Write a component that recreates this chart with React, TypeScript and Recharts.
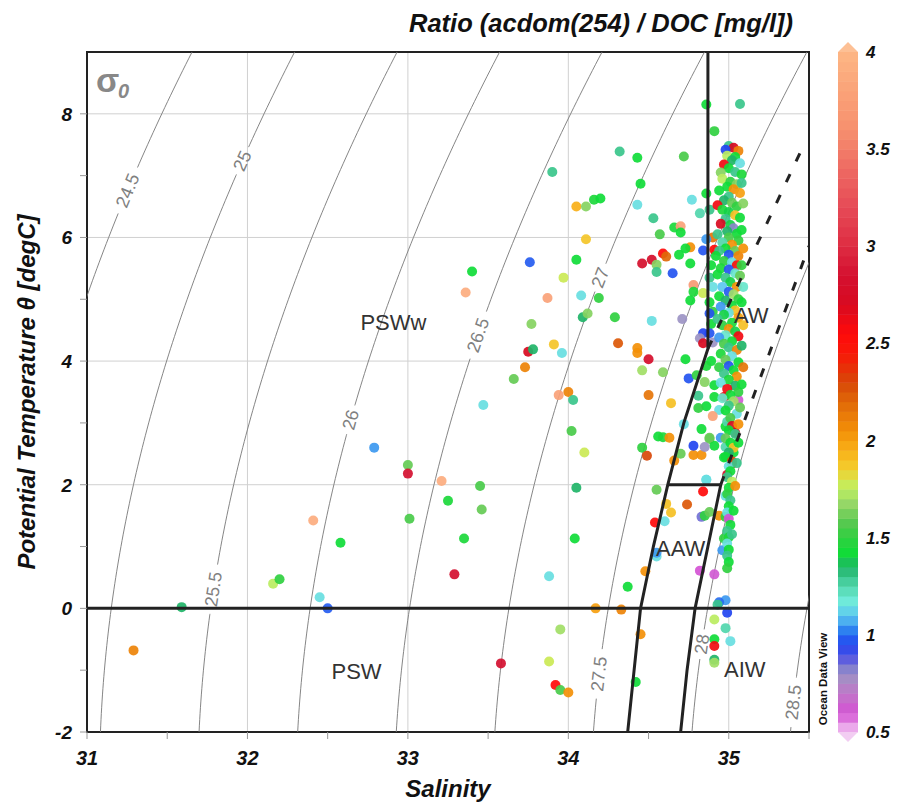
import React from 'react';
import { ComposedChart, Scatter, XAxis, YAxis, CartesianGrid, ReferenceArea, ReferenceDot } from 'recharts';

const W = 897;
const H = 808;
const FONT = "'Liberation Sans', Arial, sans-serif";

// [salinity, potential temperature, ratio]
const pswPoints = [
  [31.29, -0.68, 2.1], [31.59, 0.02, 1.35], [32.16, 0.4, 1.75], [32.2, 0.47, 1.5], [32.41, 1.42, 3.9],
  [32.45, 0.18, 1.15], [32.5, 0.0, 0.98], [32.58, 1.06, 1.42], [32.79, 2.6, 1.05], [33.0, 2.32, 1.6],
  [33.0, 2.18, 2.85], [33.21, 2.06, 3.9], [33.45, 1.98, 1.55], [33.25, 1.74, 1.45], [33.46, 1.6, 1.6],
  [33.01, 1.45, 1.55], [33.35, 1.13, 1.45], [33.29, 0.55, 2.85], [33.88, 0.52, 1.15], [33.95, -0.34, 1.7],
  [33.58, -0.89, 2.85], [33.88, -0.86, 1.78], [33.92, -1.24, 2.55], [33.95, -1.32, 1.55], [34.0, -1.36, 2.05],
  [34.17, 0.0, 2.0], [34.33, -0.02, 2.1], [34.45, -0.42, 2.05], [34.42, -1.19, 1.42], [34.37, 0.35, 1.42],
  [34.48, 0.6, 2.05], [34.05, 1.95, 1.35], [34.04, 1.13, 1.42],
];

const pswwPoints = [
  [34.0, 3.5, 2.1], [33.94, 3.45, 3.8], [34.03, 3.37, 1.3], [34.02, 2.87, 1.55], [34.1, 2.52, 1.78],
  [33.47, 3.29, 1.15], [33.66, 3.71, 1.6], [33.73, 3.9, 2.1], [33.75, 4.15, 2.7], [33.78, 4.19, 1.35],
  [33.77, 4.6, 1.65], [33.91, 4.27, 1.88], [33.96, 4.13, 1.15], [33.87, 5.02, 3.8], [33.76, 5.6, 0.98],
  [33.4, 5.45, 1.42], [33.36, 5.11, 3.9], [33.97, 5.35, 1.78], [33.9, 7.06, 1.3], [34.05, 6.5, 1.95],
  [34.11, 6.5, 1.65], [34.11, 5.97, 1.88], [34.05, 5.64, 1.42], [34.08, 5.06, 1.15], [34.09, 4.71, 1.35],
  [34.32, 7.39, 1.3], [34.43, 7.29, 1.42], [34.72, 7.31, 1.55], [34.45, 6.87, 1.42], [34.16, 6.61, 1.45],
  [34.2, 6.63, 1.42], [34.43, 6.53, 1.15], [34.77, 6.61, 1.15], [34.53, 6.31, 1.3], [34.82, 6.39, 1.25],
  [34.86, 6.71, 1.42], [34.66, 6.16, 1.45], [34.7, 6.18, 3.8], [34.7, 6.08, 1.42], [34.57, 6.05, 1.55],
  [34.76, 5.84, 2.05], [34.84, 5.79, 0.97], [34.46, 5.58, 2.8], [34.52, 5.64, 2.8], [34.55, 5.56, 1.65],
  [34.55, 5.44, 1.3], [34.59, 5.74, 2.55], [34.61, 5.69, 2.2], [34.65, 5.42, 0.97], [34.69, 5.72, 1.42],
  [34.73, 5.82, 1.42], [34.76, 5.58, 1.42], [34.19, 5.02, 1.5], [34.12, 4.77, 1.65], [34.29, 4.71, 1.5],
  [34.52, 4.65, 1.15], [34.71, 4.68, 0.8], [34.78, 5.23, 3.7], [34.78, 5.12, 1.45], [34.76, 4.98, 1.42],
  [34.84, 5.1, 1.78], [34.31, 4.29, 2.25], [34.43, 4.21, 2.05], [34.43, 4.13, 2.05], [34.5, 4.03, 2.8],
  [34.46, 3.85, 1.7], [34.59, 3.82, 1.65], [34.5, 3.45, 2.15], [34.64, 3.32, 1.9], [34.56, 2.78, 1.42],
  [34.59, 2.77, 1.45], [34.63, 2.76, 2.05], [34.46, 2.6, 1.5], [34.49, 2.47, 2.3],
];

const awEdgePoints = [
  [34.86, 8.15, 1.42], [35.07, 8.16, 1.3], [34.91, 7.72, 1.5], [34.88, 6.45, 1.3], [34.9, 6.0, 2.15],
  [34.91, 5.8, 2.55], [34.89, 5.55, 1.42], [34.88, 5.35, 1.3], [34.9, 5.2, 1.15], [34.88, 4.95, 1.42],
  [34.9, 4.8, 1.5], [34.89, 4.6, 1.42], [34.88, 4.45, 0.97], [34.9, 4.3, 0.8], [34.89, 4.0, 1.42],
  [34.86, 5.97, 1.05], [34.88, 4.77, 0.97], [34.84, 4.45, 0.95], [34.82, 4.37, 0.8], [34.84, 4.29, 2.7],
  [34.86, 3.92, 1.45], [34.75, 3.72, 0.97], [34.73, 4.03, 1.42], [34.8, 3.77, 1.5], [34.85, 3.66, 1.65],
  [34.91, 3.61, 1.42], [34.81, 3.44, 1.3], [34.86, 3.27, 1.42], [34.81, 3.24, 1.5], [34.91, 3.42, 1.42],
  [34.94, 3.21, 1.15], [34.9, 3.11, 3.8], [34.97, 3.42, 2.6], [34.83, 2.9, 1.42], [34.88, 2.74, 1.6],
  [34.95, 2.76, 1.05], [34.98, 2.94, 1.42], [34.99, 3.02, 1.25], [34.91, 2.63, 1.42], [34.98, 2.61, 1.25],
  [34.97, 2.44, 1.42], [35.02, 2.34, 2.3], [35.04, 2.84, 2.75], [35.03, 2.52, 1.42], [34.99, 2.16, 2.8],
  [35.06, 3.37, 0.62], [34.72, 2.98, 1.15], [34.66, 2.39, 2.05], [34.7, 2.5, 1.6], [34.78, 2.48, 2.05],
  [34.83, 2.48, 2.05], [34.78, 2.63, 0.95], [34.85, 2.61, 0.8], [34.88, 2.76, 1.6], [34.86, 2.08, 1.15],
];

const awCorePoints = [
  [35.0, 7.48, 1.3], [35.03, 7.45, 2.7], [35.06, 7.4, 2.1], [34.98, 7.42, 0.95], [34.99, 7.32, 1.75], [35.04, 7.3, 1.42],
  [35.02, 7.25, 1.35], [35.07, 7.2, 1.15], [34.97, 7.18, 2.6], [35.0, 7.12, 1.42], [35.04, 7.06, 1.3], [35.08, 7.02, 1.45],
  [34.95, 7.05, 1.65], [34.96, 6.95, 1.75], [35.01, 6.9, 1.5], [35.05, 6.86, 1.65], [34.99, 6.82, 1.42], [35.03, 6.78, 2.05],
  [34.94, 6.76, 1.42], [35.07, 6.72, 2.0], [35.0, 6.66, 1.3], [34.97, 6.6, 1.35], [35.02, 6.56, 1.6], [35.05, 6.5, 1.5],
  [34.93, 6.52, 2.6], [34.96, 6.45, 1.45], [35.0, 6.41, 1.4], [35.04, 6.36, 1.9], [34.98, 6.3, 1.3], [35.07, 6.32, 1.42],
  [34.95, 6.22, 2.7], [35.01, 6.2, 1.4], [35.03, 6.15, 0.82], [34.99, 6.1, 1.35], [35.05, 6.06, 1.42], [34.93, 6.05, 1.3],
  [35.0, 6.0, 1.55], [35.06, 5.95, 1.5], [34.96, 5.92, 1.25], [35.02, 5.88, 2.05], [34.98, 5.82, 1.42], [35.04, 5.78, 1.6],
  [34.94, 5.78, 1.3], [35.0, 5.72, 0.97], [35.06, 5.7, 2.1], [34.92, 5.7, 1.42], [34.97, 5.62, 1.5], [35.02, 5.6, 1.15],
  [35.05, 5.55, 2.5], [34.95, 5.5, 1.45], [35.0, 5.48, 0.97], [35.04, 5.42, 1.2], [34.93, 5.4, 1.42], [35.07, 5.38, 1.6],
  [34.98, 5.35, 1.3], [35.01, 5.28, 1.4], [35.05, 5.2, 2.05], [34.96, 5.2, 1.1], [35.0, 5.12, 0.98], [35.03, 5.08, 1.7],
  [34.94, 5.05, 1.42], [35.06, 5.0, 1.5], [34.98, 4.98, 1.35], [35.02, 4.9, 1.42], [34.95, 4.88, 1.05], [35.04, 4.82, 1.9],
  [35.0, 4.78, 1.15], [34.97, 4.75, 1.4], [35.06, 4.7, 2.0], [34.93, 4.68, 1.3], [35.02, 4.62, 1.45], [34.96, 4.58, 1.5],
  [35.0, 4.52, 2.05], [35.04, 4.48, 1.4], [34.98, 4.42, 1.2], [35.06, 4.4, 2.6], [34.94, 4.38, 1.05], [35.02, 4.32, 1.42],
  [34.97, 4.28, 1.55], [35.0, 4.22, 1.3], [35.05, 4.18, 2.1], [34.95, 4.12, 1.45], [35.02, 4.08, 1.15], [34.98, 4.02, 1.6],
  [35.06, 3.98, 1.42], [35.0, 3.92, 0.97], [34.94, 3.9, 1.5], [35.03, 3.85, 1.42], [34.97, 3.8, 1.3], [35.05, 3.75, 2.05],
  [35.0, 3.7, 1.45], [34.95, 3.65, 1.15], [35.04, 3.6, 1.35], [34.99, 3.55, 2.6], [35.06, 3.5, 1.5], [35.01, 3.45, 1.42],
  [34.96, 3.4, 1.2], [35.03, 3.35, 1.7], [35.0, 3.28, 1.3], [34.98, 3.2, 1.42], [35.05, 3.15, 1.15], [35.01, 3.08, 1.55],
  [35.02, 2.95, 2.7], [35.0, 2.88, 1.42], [35.04, 2.82, 1.3], [34.98, 2.75, 1.6], [35.01, 2.68, 1.42], [35.03, 2.6, 1.9],
  [35.0, 2.52, 1.35], [34.98, 2.45, 1.42], [35.02, 2.38, 2.3], [35.0, 2.3, 1.15], [35.01, 2.22, 1.42], [34.99, 2.12, 1.3],
  [35.02, 2.05, 1.75], [35.0, 1.95, 1.42], [34.99, 1.85, 1.5], [35.01, 1.75, 1.3], [35.0, 1.65, 1.42], [34.99, 1.55, 1.15],
  [35.0, 1.45, 0.6], [35.01, 1.35, 1.42], [34.99, 1.25, 1.3], [35.0, 1.15, 1.45], [34.99, 1.05, 1.15], [35.0, 0.95, 1.42],
  [34.99, 0.85, 1.3], [35.0, 0.75, 1.42], [34.99, 0.65, 1.5],
  [35.08, 6.88, 1.3], [35.09, 6.55, 1.65], [35.08, 6.12, 1.42], [35.09, 5.82, 2.05], [35.08, 5.55, 1.5],
  [35.09, 5.2, 1.2], [35.08, 4.95, 1.42], [35.09, 4.58, 1.9], [35.08, 4.25, 1.35], [35.09, 3.9, 2.15],
  [35.08, 3.62, 1.42], [35.07, 3.25, 1.6], [35.06, 2.98, 2.05], [35.06, 2.68, 1.42], [35.05, 2.35, 1.3],
  [35.04, 1.98, 2.05], [35.03, 1.58, 1.42], [35.02, 1.2, 1.3],
];

const aawPoints = [
  [34.86, 2.08, 1.15], [34.84, 1.89, 2.55], [34.55, 1.92, 1.6], [34.61, 1.69, 1.9], [34.64, 1.55, 1.9],
  [34.74, 1.68, 2.25], [34.54, 1.39, 2.55], [34.6, 1.41, 1.15], [34.83, 1.48, 0.85], [34.85, 1.5, 1.5],
  [34.88, 1.56, 1.6], [34.94, 1.5, 2.05], [34.98, 1.48, 1.5], [34.98, 1.82, 1.15], [34.97, 1.13, 1.5],
  [34.96, 0.94, 1.05], [34.55, 0.84, 1.15], [34.55, 0.9, 1.05], [34.82, 0.61, 0.6], [34.91, 0.55, 0.62],
];

const aiwPoints = [
  [34.98, 0.13, 1.05], [34.94, 0.1, 1.0], [34.93, 0.06, 1.3], [34.99, -0.07, 0.95], [34.91, -0.18, 1.75],
  [34.98, -0.32, 1.25], [35.01, -0.53, 1.15], [34.91, -0.5, 1.42], [34.91, -0.61, 2.6], [34.91, -0.83, 1.35],
  [34.91, -0.88, 1.7],
];

// water mass boundaries [salinity, temperature]
const awBoundary = [[34.87, 9.1], [34.87, 4.2], [34.72, 3.0], [34.62, 2.0], [34.53, 1.0], [34.45, 0.0], [34.41, -1.0], [34.37, -2.0]];
const aawTop = [[34.62, 2.0], [34.95, 2.0]];
const aawRight = [[34.95, 2.0], [34.87, 1.0], [34.79, 0.0], [34.74, -1.0], [34.7, -2.0]];
const zeroLine = [[31, 0], [35.5, 0]];
const dashedUpper = [[34.87, 4.2], [35.45, 7.4]];
const dashedLower = [[34.95, 2.0], [35.5, 5.86]];

const waterMasses = [
  { name: 'PSWw', s: 32.91, t: 4.63 },
  { name: 'AW', s: 35.14, t: 4.74 },
  { name: 'AAW', s: 34.7, t: 0.98 },
  { name: 'PSW', s: 32.68, t: -1.02 },
  { name: 'AIW', s: 35.1, t: -0.98 },
];

const sigmaLevels = [24.5, 25, 25.5, 26, 26.5, 27, 27.5, 28, 28.5];
const sigmaLabelT = [6.76, 7.24, 0.31, 3.05, 4.42, 5.35, -1.06, -0.58, -1.52];

const xTicks = [31, 31.5, 32, 32.5, 33, 33.5, 34, 34.5, 35, 35.5];
const yTicks = [-2, -1, 0, 1, 2, 3, 4, 5, 6, 7, 8];
const xLabelled = [31, 32, 33, 34, 35];
const yLabelled = [-2, 0, 2, 4, 6, 8];
const barTicks = [0.5, 1, 1.5, 2, 2.5, 3, 3.5, 4];

const colorStops: [number, string][] = [
  [0.5, '#f2c6f2'], [0.6, '#d452d4'], [0.7, '#c078c8'], [0.8, '#9c94c4'], [0.88, '#5a5ae0'],
  [0.95, '#2244f0'], [1.02, '#2a7cf0'], [1.1, '#5cc8f0'], [1.18, '#70ecd8'], [1.27, '#48d0a0'],
  [1.35, '#20b468'], [1.42, '#10dc38'], [1.5, '#30d040'], [1.58, '#58c850'], [1.68, '#98d868'],
  [1.76, '#c0f060'], [1.85, '#f2d030'], [1.95, '#f8b018'], [2.05, '#f39008'], [2.2, '#e06808'],
  [2.3, '#d84808'], [2.45, '#f81808'], [2.55, '#ff0a0a'], [2.7, '#d80a20'], [2.85, '#d41030'],
  [3.0, '#de2c42'], [3.2, '#e64a56'], [3.4, '#ee6a62'], [3.6, '#f6906e'], [3.8, '#faa278'], [4.0, '#fdb685'],
];

function hex(c: string) {
  return [1, 3, 5].map((i) => parseInt(c.slice(i, i + 2), 16));
}

function colorFor(v: number) {
  if (v <= colorStops[0][0]) return colorStops[0][1];
  for (let i = 1; i < colorStops.length; i++) {
    const [v1, c1] = colorStops[i];
    if (v <= v1) {
      const [v0, c0] = colorStops[i - 1];
      const f = (v - v0) / (v1 - v0);
      const a = hex(c0);
      const b = hex(c1);
      const m = a.map((x, k) => Math.round(x + (b[k] - x) * f));
      return `rgb(${m[0]},${m[1]},${m[2]})`;
    }
  }
  return colorStops[colorStops.length - 1][1];
}

// UNESCO EOS-80 density at surface pressure
function sigma0(S: number, T: number) {
  const rw = 999.842594 + 6.793952e-2 * T - 9.09529e-3 * T ** 2 + 1.001685e-4 * T ** 3 - 1.120083e-6 * T ** 4 + 6.536332e-9 * T ** 5;
  const A = 8.24493e-1 - 4.0899e-3 * T + 7.6438e-5 * T ** 2 - 8.2467e-7 * T ** 3 + 5.3875e-9 * T ** 4;
  const B = -5.72466e-3 + 1.0227e-4 * T - 1.6546e-6 * T ** 2;
  const C = 4.8314e-4;
  return rw + A * S + B * S ** 1.5 + C * S * S - 1000;
}

function salinityAt(sig: number, T: number) {
  let lo = 20;
  let hi = 42;
  for (let i = 0; i < 50; i++) {
    const m = (lo + hi) / 2;
    if (sigma0(m, T) < sig) lo = m;
    else hi = m;
  }
  return (lo + hi) / 2;
}

const PX_S = 161;
const PX_T = 62;

const isopycnals = sigmaLevels.map((sig, i) => {
  const tl = sigmaLabelT[i];
  const sl = salinityAt(sig, tl);
  const d = (salinityAt(sig, tl + 0.05) - salinityAt(sig, tl - 0.05)) / 0.1;
  const pxLen = Math.hypot(d * PX_S, PX_T);
  const label = String(sig);
  const g = (label.length * 5 + 5) / pxLen;
  const angle = (Math.atan2(-PX_T, d * PX_S) * 180) / Math.PI;
  const lower: { s: number; t: number }[] = [];
  const upper: { s: number; t: number }[] = [];
  for (let k = 0; k <= 115; k++) {
    const t = -2.2 + k * 0.1;
    const s = salinityAt(sig, t);
    if (s < 30.7 || s > 35.8) continue;
    if (t < tl - g) lower.push({ s, t });
    else if (t > tl + g) upper.push({ s, t });
  }
  lower.push({ s: salinityAt(sig, tl - g), t: tl - g });
  upper.unshift({ s: salinityAt(sig, tl + g), t: tl + g });
  return { sig, label, sl, tl, angle, lower, upper };
});

const rows = (a: number[][]) => a.map(([s, t, v]) => ({ s, t, v }));
const pts = (a: number[][]) => a.map(([s, t]) => ({ s, t }));
const allPoints = rows([...pswPoints, ...pswwPoints, ...aawPoints, ...aiwPoints, ...awEdgePoints, ...awCorePoints]);

const NoDot = () => <g />;
const Dot = (p: any) => (
  <circle cx={p.cx} cy={p.cy} r={5} fill={colorFor(p.payload?.v ?? p.v)} fillOpacity={0.92} />
);

const XTick = (p: any) =>
  xLabelled.includes(p.payload.value) ? (
    <text x={p.x} y={p.y + 24} textAnchor="middle" fontFamily={FONT} fontSize={20} fontWeight="bold" fontStyle="italic" fill="#111">
      {p.payload.value}
    </text>
  ) : (
    <g />
  );

const YTick = (p: any) =>
  yLabelled.includes(p.payload.value) ? (
    <text x={p.x - 6} y={p.y + 7} textAnchor="end" fontFamily={FONT} fontSize={19} fontWeight="bold" fontStyle="italic" fill="#111">
      {p.payload.value}
    </text>
  ) : (
    <g />
  );

const bold = '#222';

function ColorBar() {
  const top = 52;
  const bottom = 732;
  const x0 = 838;
  const w = 20;
  const yOf = (v: number) => bottom - ((v - 0.5) / 3.5) * (bottom - top);
  const steps = [];
  for (let k = 0; k < 70; k++) {
    const v = 0.5 + k * 0.05;
    steps.push(<rect key={k} x={x0} y={yOf(v + 0.05)} width={w} height={yOf(v) - yOf(v + 0.05) + 0.5} fill={colorFor(v + 0.025)} />);
  }
  return (
    <g>
      {steps}
      <polygon points={`${x0},${top} ${x0 + w},${top} ${x0 + w / 2},${top - 10}`} fill="#fdc095" />
      <polygon points={`${x0},${bottom} ${x0 + w},${bottom} ${x0 + w / 2},${bottom + 10}`} fill="#f2cdf2" />
      {barTicks.map((v) => (
        <text key={v} x={866} y={yOf(v) + 6} fontFamily={FONT} fontSize={17} fontWeight="bold" fontStyle="italic" fill="#111">
          {v}
        </text>
      ))}
    </g>
  );
}

export default function App() {
  return (
    <div style={{ position: 'absolute', left: 0, top: 0, width: W, height: H, background: '#fff' }}>
      <ComposedChart width={W} height={H} margin={{ top: 52, right: 88, bottom: 46, left: 47 }}>
        <CartesianGrid stroke="#d0d0d0" strokeWidth={1} horizontalValues={[2, 4, 6, 8]} verticalValues={[32, 33, 34, 35]} />
        <XAxis
          type="number"
          dataKey="s"
          domain={[31, 35.5]}
          ticks={xTicks}
          allowDataOverflow
          height={30}
          tickSize={7}
          tick={<XTick />}
          tickLine={{ stroke: '#999' }}
          axisLine={{ stroke: bold, strokeWidth: 2 }}
          interval={0}
        />
        <YAxis
          type="number"
          dataKey="t"
          domain={[-2, 9]}
          ticks={yTicks}
          allowDataOverflow
          width={40}
          tickSize={7}
          tick={<YTick />}
          tickLine={{ stroke: '#999' }}
          axisLine={{ stroke: bold, strokeWidth: 2 }}
          interval={0}
        />
        {isopycnals.map((iso) => (
          <Scatter key={`l${iso.sig}`} data={iso.lower} line={{ stroke: '#777', strokeWidth: 0.9 }} shape={NoDot} isAnimationActive={false} />
        ))}
        {isopycnals.map((iso) => (
          <Scatter key={`u${iso.sig}`} data={iso.upper} line={{ stroke: '#777', strokeWidth: 0.9 }} shape={NoDot} isAnimationActive={false} />
        ))}
        {isopycnals.map((iso) => (
          <ReferenceDot
            key={`t${iso.sig}`}
            x={iso.sl}
            y={iso.tl}
            r={0}
            shape={(p: any) => (
              <text
                transform={`translate(${p.cx},${p.cy}) rotate(${iso.angle})`}
                textAnchor="middle"
                dy={6}
                fontFamily={FONT}
                fontSize={18}
                fill="#808080"
              >
                {iso.label}
              </text>
            )}
          />
        ))}
        <Scatter data={allPoints} shape={Dot} isAnimationActive={false} />
        <Scatter data={pts(zeroLine)} line={{ stroke: bold, strokeWidth: 3 }} shape={NoDot} isAnimationActive={false} />
        <Scatter data={pts(awBoundary)} line={{ stroke: bold, strokeWidth: 3 }} shape={NoDot} isAnimationActive={false} />
        <Scatter data={pts(aawTop)} line={{ stroke: bold, strokeWidth: 3 }} shape={NoDot} isAnimationActive={false} />
        <Scatter data={pts(aawRight)} line={{ stroke: bold, strokeWidth: 3 }} shape={NoDot} isAnimationActive={false} />
        <Scatter data={pts(dashedUpper)} line={{ stroke: bold, strokeWidth: 3, strokeDasharray: '9 14' }} shape={NoDot} isAnimationActive={false} />
        <Scatter data={pts(dashedLower)} line={{ stroke: bold, strokeWidth: 3, strokeDasharray: '9 14' }} shape={NoDot} isAnimationActive={false} />
        {waterMasses.map((m) => (
          <ReferenceDot
            key={m.name}
            x={m.s}
            y={m.t}
            r={0}
            shape={(p: any) => (
              <text x={p.cx} y={p.cy + 8} textAnchor="middle" fontFamily={FONT} fontSize={22} fill="#333">
                {m.name}
              </text>
            )}
          />
        ))}
        <ReferenceArea x1={31} x2={35.5} y1={-2} y2={9} fill="none" stroke={bold} strokeWidth={2} ifOverflow="visible" />
      </ComposedChart>
      <svg width={W} height={H} style={{ position: 'absolute', left: 0, top: 0, pointerEvents: 'none' }}>
        <text x={601} y={32} textAnchor="middle" fontFamily={FONT} fontSize={25.5} fontWeight="bold" fontStyle="italic" fill="#111">
          Ratio (acdom(254) / DOC [mg/l])
        </text>
        <text
          transform="translate(27,392) rotate(-90)"
          textAnchor="middle"
          dy={8}
          fontFamily={FONT}
          fontSize={24}
          fontWeight="bold"
          fontStyle="italic"
          fill="#111"
        >
          Potential Temperature θ [degC]
        </text>
        <text x={448} y={797} textAnchor="middle" fontFamily={FONT} fontSize={24} fontWeight="bold" fontStyle="italic" fill="#111">
          Salinity
        </text>
        <text x={96} y={92} fontFamily={FONT} fontSize={34} fontWeight="bold" fill="#888">
          σ
        </text>
        <text x={118} y={98} fontFamily={FONT} fontSize={20} fontWeight="bold" fontStyle="italic" fill="#888">
          0
        </text>
        <text transform="translate(827,679) rotate(-90)" textAnchor="middle" fontFamily={FONT} fontSize={11.5} fontWeight="bold" fill="#111">
          Ocean Data View
        </text>
        <ColorBar />
      </svg>
    </div>
  );
}
